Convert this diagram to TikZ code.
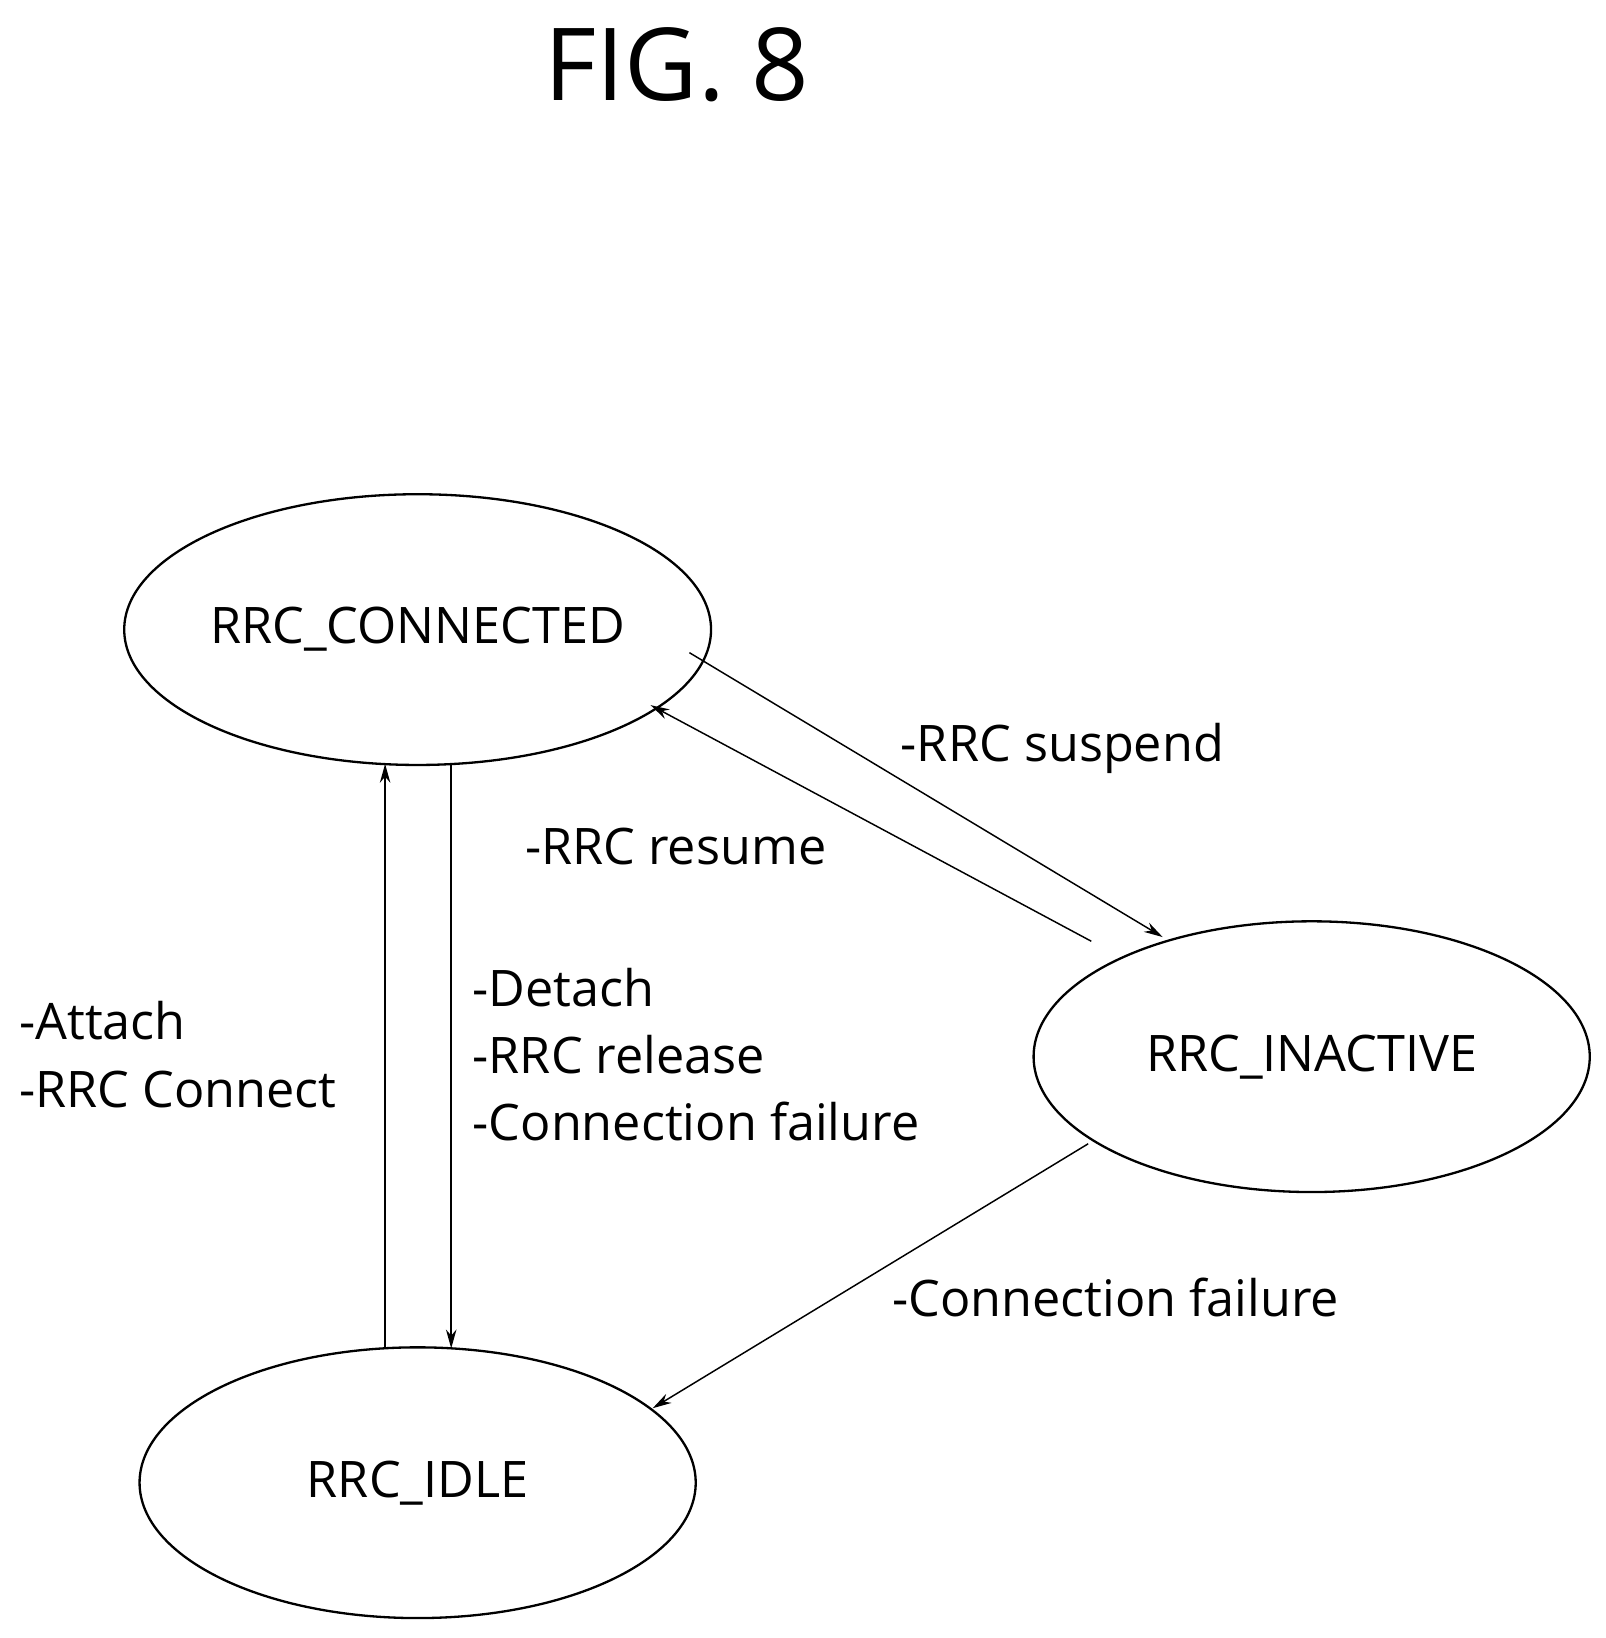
\documentclass[tikz,border=0pt]{standalone}
\usepackage{fontspec}
\setmainfont{Open Sans}
\usetikzlibrary{arrows.meta,shapes.geometric}
\begin{document}
\begin{tikzpicture}[x=0.5pt,y=-0.5pt,
  st/.style={draw,ellipse,line width=1.1pt,minimum width=265pt,minimum height=129pt,inner sep=0pt,font=\fontsize{24}{28}\selectfont},
  ar/.style={line width=0.7pt,-{Stealth[length=9pt,width=5pt]}},
  lb/.style={anchor=west,font=\fontsize{24}{32}\selectfont,inner sep=0pt,align=left}]
\useasboundingbox (0,0) rectangle (1530,1561);
\node[font=\fontsize{48}{50}\selectfont] (t) at (645,62) {FIG. 8};
\node[st] (c) at (398,600) {RRC\_CONNECTED};
\node[st] (i) at (1250,1007) {RRC\_INACTIVE};
\node[st] (d) at (398,1413) {RRC\_IDLE};
\coordinate (a1) at (367,1285); \coordinate (a2) at (367,728);
\coordinate (b1) at (430,728); \coordinate (b2) at (430,1285);
\coordinate (s1) at (657,622); \coordinate (s2) at (1108,893);
\coordinate (r1) at (1040,897); \coordinate (r2) at (620,672);
\coordinate (f1) at (1037,1090); \coordinate (f2) at (622,1342);
\draw[ar] (a1) -- (a2);
\draw[ar] (b1) -- (b2);
\draw[ar] (s1) -- (s2);
\draw[ar] (r1) -- (r2);
\draw[ar] (f1) -- (f2);
\node[lb] (ls) at (858,713) {-RRC suspend};
\node[lb] (lr) at (500,807) {-RRC resume};
\node[lb] (ld) at (450,1005) {-Detach\\-RRC release\\-Connection failure};
\node[lb] (la) at (18,1005) {-Attach\\-RRC Connect};
\node[lb] (lf) at (850,1236) {-Connection failure};
\end{tikzpicture}
\end{document}
